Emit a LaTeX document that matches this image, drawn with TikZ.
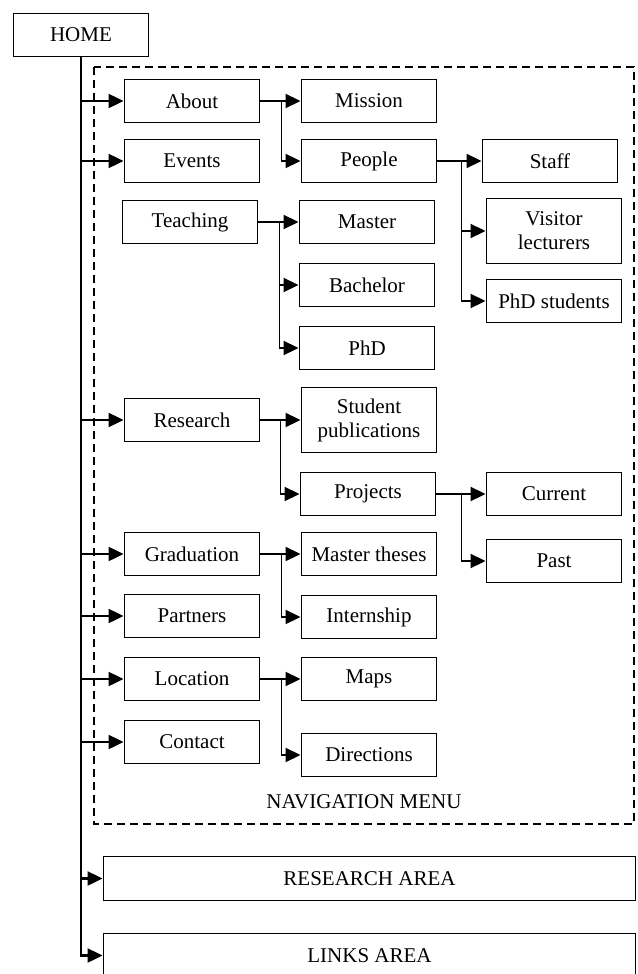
\documentclass[tikz,border=0pt]{standalone}
\usepackage{fontspec}
\setmainfont{Liberation Serif}
\usetikzlibrary{arrows.meta}

\begin{document}
\begin{tikzpicture}[
        x=1pt, y=-1pt,
        every node/.style={font=\fontsize{21}{24}\selectfont},
        box/.style={rectangle, draw, line width=1.9pt, minimum width=135pt, minimum height=43pt, inner sep=2pt, align=center},
        tallbox/.style={box, minimum height=65pt},
        areabox/.style={box, minimum width=532pt, minimum height=44pt},
        arrow/.style={-{Triangle[length=15pt, width=14pt]}, line width=1.9pt},
        trunk/.style={arrow, line width=2.2pt},
        menuframe/.style={draw, line width=1.3pt, dash pattern=on 8pt off 5pt}
    ]
        \useasboundingbox (0,0) rectangle (637,974);

        % navigation menu frame
        \draw[menuframe] (94,67) rectangle (634,824);
        \node (navlabel) at (364,802) {NAVIGATION MENU};

        \node[box] (home) at (81,35) {HOME};

        % first level
        \node[box] (about) at (192,101) {About};
        \node[box] (events) at (192,161) {Events};
        \node[box] (teaching) at (190,222) {Teaching};
        \node[box] (research) at (192,420) {Research};
        \node[box] (graduation) at (192,554) {Graduation};
        \node[box] (partners) at (192,616) {Partners};
        \node[box] (location) at (192,679) {Location};
        \node[box] (contact) at (192,742) {Contact};

        % second level
        \node[box] (mission) at (369,101) {Mission};
        \node[box] (people) at (369,161) {People};
        \node[box] (master) at (367,222) {Master};
        \node[box] (bachelor) at (367,285) {Bachelor};
        \node[box] (phd) at (367,348) {PhD};
        \node[tallbox] (studpub) at (369,420) {Student\\publications};
        \node[box] (projects) at (368,494) {Projects};
        \node[box] (mtheses) at (369,554) {Master theses};
        \node[box] (internship) at (369,617) {Internship};
        \node[box] (maps) at (369,679) {Maps};
        \node[box] (directions) at (369,755) {Directions};

        % third level
        \node[box] (staff) at (550,161) {Staff};
        \node[tallbox] (visitor) at (554,231) {Visitor\\lecturers};
        \node[box] (phdstud) at (554,301) {PhD students};
        \node[box] (current) at (554,494) {Current};
        \node[box] (past) at (554,561) {Past};

        % other areas
        \node[areabox] (resarea) at (369.5,878.5) {RESEARCH AREA};
        \node[areabox] (linksarea) at (369.5,955.5) {LINKS AREA};

        % trunk from home
        \draw[trunk] (home.south) |- (about.west);
        \draw[trunk] (home.south) |- (events.west);
        \draw[trunk] (home.south) |- (research.west);
        \draw[trunk] (home.south) |- (graduation.west);
        \draw[trunk] (home.south) |- (partners.west);
        \draw[trunk] (home.south) |- (location.west);
        \draw[trunk] (home.south) |- (contact.west);
        \draw[trunk] (home.south) |- (resarea.west);
        \draw[trunk] (home.south) |- (linksarea.west);

        % branches
        \draw[arrow] (about.east) -- (mission.west);
        \draw[arrow] (about.east) -- ++(21,0) |- (people.west);
        \draw[arrow] (people.east) -- (staff.west);
        \draw[arrow] (people.east) -- ++(24,0) |- (visitor.west);
        \draw[arrow] (people.east) -- ++(24,0) |- (phdstud.west);
        \draw[arrow] (teaching.east) -- (master.west);
        \draw[arrow] (teaching.east) -- ++(21,0) |- (bachelor.west);
        \draw[arrow] (teaching.east) -- ++(21,0) |- (phd.west);
        \draw[arrow] (research.east) -- (studpub.west);
        \draw[arrow] (research.east) -- ++(20,0) |- (projects.west);
        \draw[arrow] (projects.east) -- (current.west);
        \draw[arrow] (projects.east) -- ++(25,0) |- (past.west);
        \draw[arrow] (graduation.east) -- (mtheses.west);
        \draw[arrow] (graduation.east) -- ++(21,0) |- (internship.west);
        \draw[arrow] (location.east) -- (maps.west);
        \draw[arrow] (location.east) -- ++(21,0) |- (directions.west);
    \end{tikzpicture}
\end{document}
